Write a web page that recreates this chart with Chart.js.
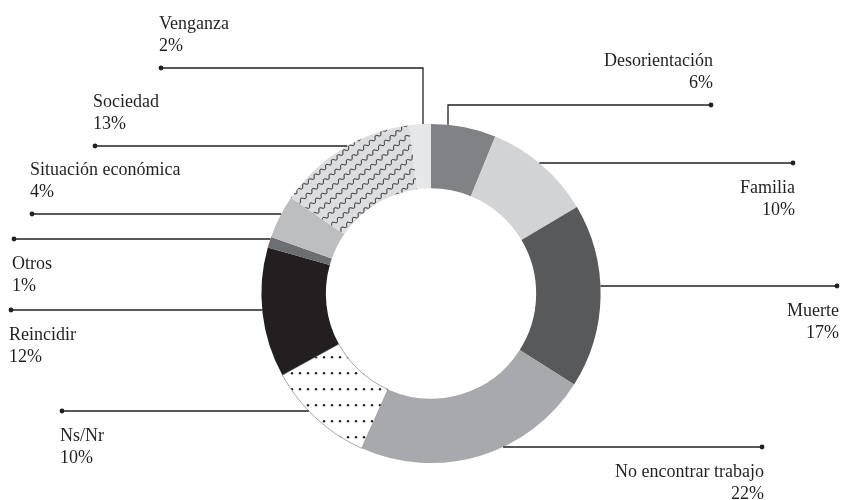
<!DOCTYPE html>
<html>
<head>
<meta charset="utf-8">
<script src="https://cdn.jsdelivr.net/npm/chart.js@4.4.1/dist/chart.umd.min.js"></script>
<style>
  html, body { margin: 0; padding: 0; background: #fff; }
  #wrap { width: 842px; height: 500px; }
</style>
</head>
<body>
<div id="wrap"><canvas id="chart" width="842" height="500"></canvas></div>
<script>
// motivos, in clockwise order from 12 o'clock
var categories = ['Desorientación', 'Familia', 'Muerte', 'No encontrar trabajo', 'Ns/Nr',
                  'Reincidir', 'Otros', 'Situación económica', 'Sociedad', 'Venganza'];
var percentages = [6, 10, 17, 22, 10, 12, 1, 4, 13, 2];

// where each callout line ends and where its text sits
var callouts = [
    { side: 'right', lineY: 105, dotX: 711, elbowX: 448, text: 'above' },
    { side: 'right', lineY: 163, dotX: 793, text: 'below' },
    { side: 'right', lineY: 286, dotX: 837, text: 'below' },
    { side: 'right', lineY: 447, dotX: 762, text: 'below' },
    { side: 'left', lineY: 411, dotX: 62, text: 'below' },
    { side: 'left', lineY: 310, dotX: 11, text: 'below' },
    { side: 'left', lineY: 239, dotX: 14, text: 'below' },
    { side: 'left', lineY: 214, dotX: 32, text: 'above' },
    { side: 'left', lineY: 146, dotX: 95, text: 'above' },
    { side: 'left', lineY: 68, dotX: 161, elbowX: 423, text: 'above' }
];

var ink = '#231f20';
var canvas = document.getElementById('chart');
var ctx = canvas.getContext('2d');

// white with a grid of small black dots
var dotPattern = function () {
    var c = document.createElement('canvas');
    c.width = 8; c.height = 16;
    var g = c.getContext('2d');
    g.fillStyle = '#ffffff';
    g.fillRect(0, 0, 8, 16);
    g.fillStyle = ink;
    g.beginPath();
    g.arc(4, 5.3, 1.2, 0, Math.PI * 2);
    g.fill();
    return ctx.createPattern(c, 'repeat');
};

// light grey with slanted wavy lines
var wavePattern = function () {
    var w = 842, h = 500;
    var c = document.createElement('canvas');
    c.width = w; c.height = h;
    var g = c.getContext('2d');
    g.fillStyle = '#dcdddf';
    g.fillRect(0, 0, w, h);
    g.strokeStyle = ink;
    g.lineWidth = 1;
    var a = 40 * Math.PI / 180;
    var ux = Math.cos(a), uy = -Math.sin(a);
    var nx = Math.sin(a), ny = Math.cos(a);
    var amp = 1.6, wl = 7.5, gap = 15;
    var yRef = 155, xRef = 340;
    for (var k = -80; k <= 80; k++) {
        var x0 = xRef + k * gap;
        g.beginPath();
        for (var t = -700; t <= 700; t += 0.5) {
            var off = amp * Math.sin(2 * Math.PI * t / wl);
            var x = x0 + t * ux + off * nx;
            var y = yRef + t * uy + off * ny;
            if (t === -700) g.moveTo(x, y); else g.lineTo(x, y);
        }
        g.stroke();
    }
    return ctx.createPattern(c, 'no-repeat');
};

var fills = ['#808285', '#d1d3d4', '#58595b', '#a7a9ac', dotPattern(),
             '#231f20', '#6d6e71', '#bcbec0', wavePattern(), '#e6e7e8'];
var borders = categories.map(function (c, i) { return i === 4 ? '#8f9193' : 'rgba(0,0,0,0)'; });
var borderWidths = categories.map(function (c, i) { return i === 4 ? 0.8 : 0; });

var calloutPlugin = {
    id: 'callouts',
    afterDraw: function (chart) {
        var c = chart.ctx;
        var arcs = chart.getDatasetMeta(0).data;
        c.save();
        c.strokeStyle = ink;
        c.fillStyle = ink;
        c.lineWidth = 1.3;
        c.font = '18px "Liberation Serif", "Times New Roman", serif';
        for (var i = 0; i < callouts.length; i++) {
            var o = callouts[i];
            var arc = arcs[i];
            var R = arc.outerRadius;
            c.beginPath();
            c.moveTo(o.dotX, o.lineY);
            if (o.elbowX !== undefined) {
                var ex = o.elbowX - arc.x;
                c.lineTo(o.elbowX, o.lineY);
                c.lineTo(o.elbowX, arc.y - Math.sqrt(R * R - ex * ex));
            } else {
                var dy = o.lineY - arc.y;
                var dx = Math.sqrt(R * R - dy * dy);
                c.lineTo(o.side === 'left' ? arc.x - dx : arc.x + dx, o.lineY);
            }
            c.stroke();
            c.beginPath();
            c.arc(o.dotX, o.lineY, 2.4, 0, Math.PI * 2);
            c.fill();

            c.textAlign = o.side === 'left' ? 'left' : 'right';
            c.textBaseline = 'alphabetic';
            var tx = o.side === 'left' ? o.dotX - 2 : o.dotX + 2;
            var y1 = o.text === 'above' ? o.lineY - 39 : o.lineY + 30;
            c.fillText(categories[i], tx, y1);
            c.fillText(percentages[i] + '%', tx, y1 + 22);
        }
        c.restore();
    }
};

new Chart(canvas, {
    type: 'doughnut',
    data: {
        labels: categories,
        datasets: [{
            data: percentages,
            backgroundColor: fills,
            borderColor: borders,
            borderWidth: borderWidths
        }]
    },
    options: {
        responsive: false,
        animation: false,
        cutout: '62%',
        layout: {
            padding: { left: 261, right: 241, top: 123.5, bottom: 36.5 }
        },
        plugins: {
            legend: { display: false },
            tooltip: { enabled: false }
        }
    },
    plugins: [calloutPlugin]
});
</script>
</body>
</html>
